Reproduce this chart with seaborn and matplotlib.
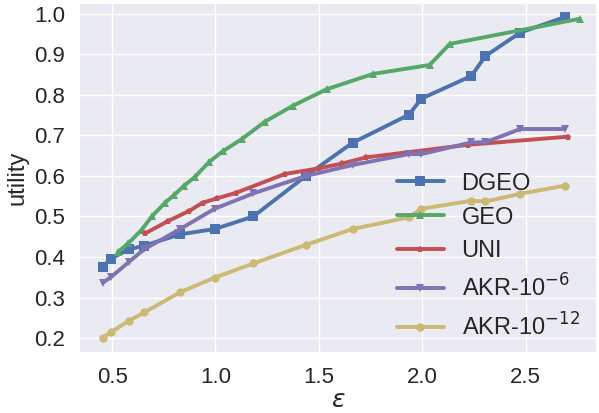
import numpy as np
import pandas as pd
import seaborn as sns
import matplotlib
matplotlib.use("Agg")
import matplotlib.pyplot as plt

# epsilon grid shared by DGEO and the AKR variants
eps_shared = [0.455, 0.494, 0.582, 0.655, 0.829, 0.996, 1.183, 1.437,
              1.663, 1.935, 1.996, 2.238, 2.305, 2.474, 2.688]

dgeo_util = [0.376, 0.396, 0.419, 0.428, 0.456, 0.469, 0.500, 0.600,
             0.682, 0.751, 0.791, 0.847, 0.896, 0.954, 0.992]

geo_eps = [0.530, 0.579, 0.643, 0.692, 0.756, 0.800, 0.846, 0.901, 0.970,
           1.038, 1.127, 1.239, 1.373, 1.537, 1.762, 2.036, 2.133, 2.761]
geo_util = [0.413, 0.434, 0.467, 0.500, 0.534, 0.553, 0.575, 0.598, 0.635,
            0.662, 0.691, 0.734, 0.773, 0.814, 0.852, 0.874, 0.926, 0.988]

uni_eps = [0.659, 0.772, 0.874, 0.938, 1.009, 1.097, 1.336, 1.502,
           1.614, 1.730, 2.221, 2.704]
uni_util = [0.458, 0.489, 0.514, 0.534, 0.545, 0.558, 0.605, 0.619,
            0.631, 0.646, 0.677, 0.697]

akr6_util = [0.337, 0.350, 0.388, 0.419, 0.469, 0.519, 0.557, 0.600,
             0.627, 0.654, 0.654, 0.683, 0.683, 0.716, 0.716]

akr12_util = [0.201, 0.214, 0.243, 0.263, 0.313, 0.349, 0.384, 0.430,
              0.469, 0.498, 0.519, 0.539, 0.537, 0.556, 0.576]

labels = ["DGEO", "GEO", "UNI", r"AKR-10$^{-6}$", r"AKR-10$^{-12}$"]
markers = ["s", "^", "p", "v", "o"]
msizes = [7, 6, 5, 6, 6]
# classic seaborn "deep" colours
colors = ["#4C72B0", "#55A868", "#C44E52", "#8172B2", "#CCB974"]

sns.set_theme(style="darkgrid")
plt.rcParams["font.family"] = ["Liberation Sans", "DejaVu Sans"]
plt.rcParams["mathtext.fontset"] = "dejavusans"

series = [
    (eps_shared, dgeo_util),
    (geo_eps, geo_util),
    (uni_eps, uni_util),
    (eps_shared, akr6_util),
    (eps_shared, akr12_util),
]

fig, ax = plt.subplots(figsize=(5.99, 4.13), dpi=100)
fig.subplots_adjust(left=79 / 599, right=597 / 599, top=1 - 3 / 413,
                    bottom=1 - 353 / 413)

for i, ((xs, ys), lab) in enumerate(zip(series, labels)):
    df = pd.DataFrame({"eps": xs, "utility": ys})
    sns.lineplot(data=df, x="eps", y="utility", ax=ax, color=colors[i],
                 marker=markers[i], markersize=msizes[i], linewidth=2.8,
                 markeredgewidth=0, label=lab, estimator=None, sort=False)

ax.set_xlim(0.34, 2.845)
ax.set_ylim(0.163, 1.027)
ax.set_xticks([0.5, 1.0, 1.5, 2.0, 2.5])
ax.set_yticks(np.round(np.arange(0.2, 1.01, 0.1), 1))
ax.tick_params(labelsize=16, pad=4)
ax.set_xlabel(r"$\varepsilon$", fontsize=18, labelpad=0)
ax.set_ylabel("utility", fontsize=17, labelpad=4)

ax.legend(loc="upper left", bbox_to_anchor=(0.595, 0.542), frameon=False,
          fontsize=17, handlelength=2.0, handletextpad=0.75,
          labelspacing=0.5, borderaxespad=0)

fig.savefig("out.png", dpi=100)
